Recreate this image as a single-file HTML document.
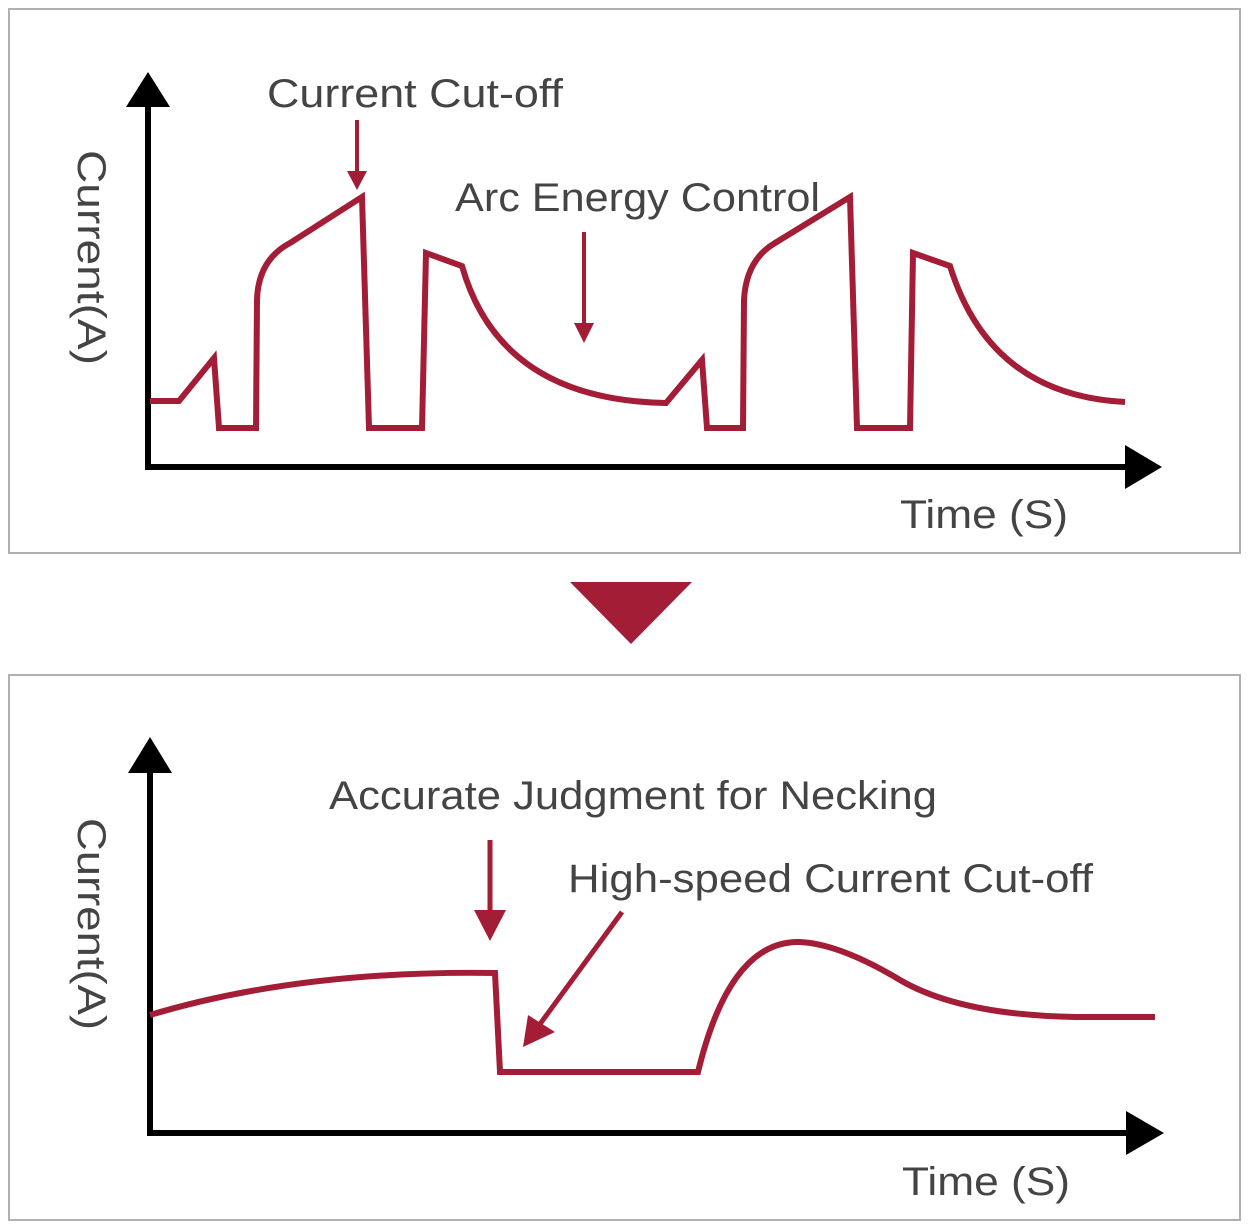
<!DOCTYPE html>
<html><head><meta charset="utf-8"><style>
html,body{margin:0;padding:0;background:#fff}
svg{display:block}
text{font-family:"Liberation Sans",sans-serif;fill:#444;font-size:40px}
</style></head><body>
<svg width="1249" height="1227" viewBox="0 0 1249 1227" xmlns="http://www.w3.org/2000/svg">
<rect x="9" y="9" width="1231" height="544" fill="none" stroke="#b0b0b0" stroke-width="2"/>
<rect x="9" y="675" width="1231" height="545" fill="none" stroke="#b0b0b0" stroke-width="2"/>
<!-- top axes -->
<line x1="148" y1="100" x2="148" y2="470" stroke="#000" stroke-width="6"/>
<polygon points="148,72 126,107 170,107" fill="#000"/>
<line x1="145" y1="467" x2="1130" y2="467" stroke="#000" stroke-width="6"/>
<polygon points="1162,467 1125,445 1125,489" fill="#000"/>
<path d="M150,401 L179,401 L214,358 L219,428 L256,428 L257,300 Q258,260 290,243 L362,197 L369,428 L422,428 L426,253 L462,266 Q500,400 666,403 L702,360 L707,428 L743,428 L744,300 Q746,260 775,243 L850,197 L857,428 L910,428 L913,253 L950,266 Q990,395 1125,402" fill="none" stroke="#A31D37" stroke-width="6" stroke-linejoin="miter"/>
<line x1="357" y1="120" x2="357" y2="175" stroke="#A31D37" stroke-width="4"/>
<polygon points="357,190 347,171 367,171" fill="#A31D37"/>
<line x1="584" y1="232" x2="584" y2="326" stroke="#A31D37" stroke-width="4"/>
<polygon points="584,343 574,323 594,323" fill="#A31D37"/>
<text x="267" y="107" textLength="296" lengthAdjust="spacingAndGlyphs">Current Cut-off</text>
<text x="455" y="211" textLength="365" lengthAdjust="spacingAndGlyphs">Arc Energy Control</text>
<text transform="translate(78,150) rotate(90)" textLength="215" lengthAdjust="spacingAndGlyphs">Current(A)</text>
<text x="900" y="528" textLength="168" lengthAdjust="spacingAndGlyphs">Time  (S)</text>
<!-- middle triangle -->
<polygon points="570,582 692,582 631,644" fill="#A31D37"/>
<!-- bottom axes -->
<line x1="150" y1="765" x2="150" y2="1136" stroke="#000" stroke-width="6"/>
<polygon points="150,737 128,773 172,773" fill="#000"/>
<line x1="147" y1="1133" x2="1132" y2="1133" stroke="#000" stroke-width="6"/>
<polygon points="1164,1133 1126,1111 1126,1155" fill="#000"/>
<path d="M150,1015 Q300,970 495,973 L500,1072 L698,1072 Q730,940 800,942 Q840,944 900,980 Q960,1015 1075,1017 L1155,1017" fill="none" stroke="#A31D37" stroke-width="6"/>
<line x1="490" y1="840" x2="490" y2="915" stroke="#A31D37" stroke-width="5"/>
<polygon points="490,941 474,910 506,910" fill="#A31D37"/>
<line x1="622" y1="912" x2="540" y2="1024" stroke="#A31D37" stroke-width="5"/>
<polygon points="523,1047 528,1015 555,1032" fill="#A31D37"/>
<text x="329" y="809" textLength="608" lengthAdjust="spacingAndGlyphs">Accurate Judgment for Necking</text>
<text x="568" y="892" textLength="525" lengthAdjust="spacingAndGlyphs">High-speed Current Cut-off</text>
<text transform="translate(78,818) rotate(90)" textLength="212" lengthAdjust="spacingAndGlyphs">Current(A)</text>
<text x="902" y="1195" textLength="168" lengthAdjust="spacingAndGlyphs">Time  (S)</text>
</svg>
</body></html>
